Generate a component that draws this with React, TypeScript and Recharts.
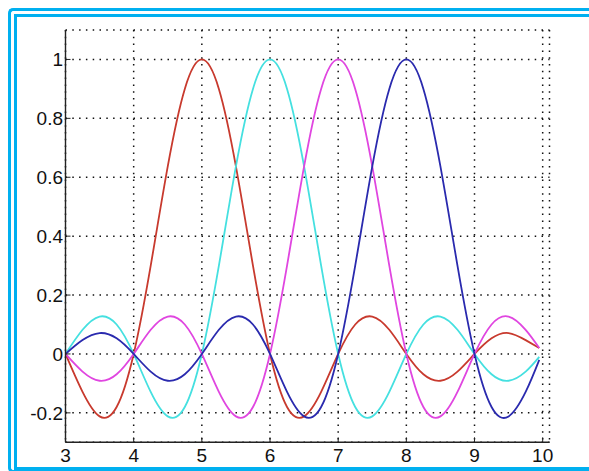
import { CartesianGrid, Line, LineChart, XAxis, YAxis } from "recharts";

// sample positions along x
const xs = [
  3, 3.25, 3.5, 3.75, 4, 4.25, 4.5, 4.75, 5, 5.25, 5.5, 5.75, 6, 6.25, 6.5,
  6.75, 7, 7.25, 7.5, 7.75, 8, 8.25, 8.5, 8.75, 9, 9.25, 9.5, 9.75, 9.95,
];

// curve peaking at 5
const red = [
  0, -0.129, -0.212, -0.18, 0, 0.3, 0.637, 0.9, 1, 0.9, 0.637, 0.3, 0, -0.18,
  -0.212, -0.129, 0, 0.1, 0.127, 0.082, 0, -0.069, -0.091, -0.06, 0, 0.053,
  0.071, 0.047, 0.02,
];
// curve peaking at 6
const cyan = [
  0, 0.082, 0.127, 0.1, 0, -0.129, -0.212, -0.18, 0, 0.3, 0.637, 0.9, 1, 0.9,
  0.637, 0.3, 0, -0.18, -0.212, -0.129, 0, 0.1, 0.127, 0.082, 0, -0.069,
  -0.091, -0.06, -0.01,
];
// curve peaking at 7
const magenta = [
  0, -0.06, -0.091, -0.069, 0, 0.082, 0.127, 0.1, 0, -0.129, -0.212, -0.18, 0,
  0.3, 0.637, 0.9, 1, 0.9, 0.637, 0.3, 0, -0.18, -0.212, -0.129, 0, 0.1, 0.127,
  0.082, 0.02,
];
// curve peaking at 8
const blue = [
  0, 0.047, 0.071, 0.053, 0, -0.06, -0.091, -0.069, 0, 0.082, 0.127, 0.1, 0,
  -0.129, -0.212, -0.18, 0, 0.3, 0.637, 0.9, 1, 0.9, 0.637, 0.3, 0, -0.18,
  -0.212, -0.129, -0.02,
];

const xTicks = [3, 4, 5, 6, 7, 8, 9, 10];
const yTicks = [-0.2, 0, 0.2, 0.4, 0.6, 0.8, 1];

const data = xs.map((x, i) => ({
  x,
  red: red[i],
  cyan: cyan[i],
  magenta: magenta[i],
  blue: blue[i],
}));

const FRAME = "#00B0F0";
const AXIS = "#222";
const tickFont = { fill: "#111", fontSize: 19, fontFamily: "'Liberation Sans', Arial, sans-serif" };

const fmt = (v: number) => String(Math.round(v * 10) / 10);

export default function App() {
  return (
    <div
      style={{
        position: "fixed",
        left: 0,
        top: 0,
        width: 589,
        height: 471,
        overflow: "hidden",
        background: "#fff",
      }}
    >
      <div
        style={{
          position: "absolute",
          left: 8,
          top: 8,
          width: 620,
          height: 465,
          boxSizing: "border-box",
          borderTop: `3px solid ${FRAME}`,
          borderLeft: `3px solid ${FRAME}`,
          borderBottom: `3px solid ${FRAME}`,
          borderRadius: "5px 0 0 5px",
        }}
      />
      <div
        style={{
          position: "absolute",
          left: 14,
          top: 14,
          width: 620,
          height: 456,
          boxSizing: "border-box",
          borderTop: `3px solid ${FRAME}`,
          borderLeft: `3px solid ${FRAME}`,
          borderBottom: `3px solid ${FRAME}`,
        }}
      />
      <div style={{ position: "absolute", left: 0, top: 0 }}>
        <LineChart
          width={589}
          height={471}
          data={data}
          margin={{ top: 30, right: 39.5, left: 10.5, bottom: 3.7 }}
        >
          <CartesianGrid stroke="#111" strokeWidth={1.5} strokeDasharray="1.5 5.3" />
          <XAxis
            dataKey="x"
            type="number"
            domain={[3, 10.1]}
            ticks={xTicks}
            allowDataOverflow
            height={25}
            tickSize={-5}
            tickMargin={11}
            tick={tickFont}
            axisLine={{ stroke: AXIS, strokeWidth: 1.4 }}
            tickLine={{ stroke: AXIS }}
          />
          <XAxis
            xAxisId="top"
            orientation="top"
            dataKey="x"
            type="number"
            domain={[3, 10.1]}
            ticks={xTicks}
            allowDataOverflow
            height={0}
            tickSize={-5}
            tick={false}
            axisLine={{ stroke: AXIS, strokeWidth: 1.4 }}
            tickLine={{ stroke: AXIS }}
          />
          <YAxis
            type="number"
            domain={[-0.3, 1.1]}
            ticks={yTicks}
            allowDataOverflow
            width={55}
            tickSize={-5}
            tickMargin={7.5}
            tickFormatter={fmt}
            tick={tickFont}
            axisLine={{ stroke: AXIS, strokeWidth: 1.4 }}
            tickLine={{ stroke: AXIS }}
          />
          <YAxis
            yAxisId="right"
            orientation="right"
            type="number"
            domain={[-0.3, 1.1]}
            ticks={yTicks}
            allowDataOverflow
            width={0}
            tickSize={-5}
            tick={false}
            axisLine={{ stroke: AXIS, strokeWidth: 1.4 }}
            tickLine={{ stroke: AXIS }}
          />
          <Line type="natural" dataKey="red" stroke="#C83A2E" strokeWidth={1.8} dot={false} isAnimationActive={false} />
          <Line type="natural" dataKey="cyan" stroke="#45E0E0" strokeWidth={1.8} dot={false} isAnimationActive={false} />
          <Line type="natural" dataKey="magenta" stroke="#E046E0" strokeWidth={1.8} dot={false} isAnimationActive={false} />
          <Line type="natural" dataKey="blue" stroke="#2A2AAE" strokeWidth={1.8} dot={false} isAnimationActive={false} />
        </LineChart>
      </div>
    </div>
  );
}
